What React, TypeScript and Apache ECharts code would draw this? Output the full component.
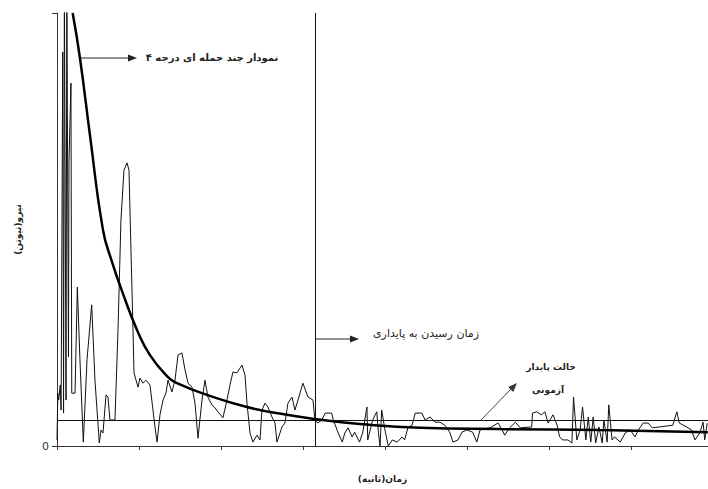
import React, { useEffect, useRef } from "react";
import * as echarts from "echarts";

const noisyX = [
  0, 0.1, 0.2, 0.4, 0.5, 0.7, 0.8, 0.9, 1.1, 1.2, 1.4, 1.46, 1.7, 1.8, 2.2, 2.48, 2.8, 3.21, 3.66, 4.23,
  4.63, 5.16, 5.37, 5.61, 5.98, 6.22, 6.46, 7.07, 7.44, 7.8, 8.17, 8.54, 8.78, 9.02, 9.27, 9.39, 9.88, 10.12, 10.49, 10.85,
  11.34, 11.95, 12.2, 12.56, 12.93, 13.29, 13.54, 14.02, 14.39, 14.76, 15.24, 15.61, 15.98, 16.46, 16.83, 17.2, 17.68, 18.05, 18.41, 18.9,
  19.27, 19.63, 20.24, 20.73, 21.1, 21.46, 21.95, 22.56, 22.93, 23.17, 23.54, 23.9, 24.39, 24.76, 25.0, 25.37, 25.73, 26.22, 26.59, 26.83,
  27.44, 27.8, 28.17, 28.66, 29.02, 29.39, 29.99, 30.61, 31.22, 31.46, 31.8, 32.3, 32.7, 33.5, 33.7, 34.3, 34.8, 35.1, 35.5, 36.0,
  36.3, 36.9, 37.3, 37.8, 37.9, 38.5, 39.0, 39.2, 39.4, 39.6, 40.0, 40.4, 40.9, 41.5, 42.1, 42.4, 42.8, 43.3, 43.7, 44.5,
  44.9, 45.5, 46.1, 46.7, 47.3, 47.9, 48.3, 48.9, 49.4, 50.0, 50.7, 51.2, 51.6, 52.8, 53.8, 54.3, 54.6, 55.2, 55.9, 56.5,
  57.9, 58.0, 58.5, 59.1, 59.5, 59.9, 60.5, 61.0, 61.3, 61.7, 62.3, 62.8, 63.0, 63.4, 63.8, 64.1, 64.5, 64.8, 65.1, 65.4,
  65.7, 66.1, 66.5, 66.7, 67.1, 67.3, 67.7, 68.0, 68.7, 69.3, 69.9, 70.5, 70.9, 71.5, 72.1, 72.6, 73.5, 75.1, 75.6, 75.9,
  76.8, 77.4, 77.8, 78.4, 78.8, 79.0, 79.3,
];
const noisyY = [
  1.4, 12.2, 10.6, 14.1, 8.3, 91.0, 7.6, 105, 10.6, 105, 20.6, 65.4, 83.8, 12.2, 12.2, 36.7, 19.9, 0.9, 19.9, 32.6,
  15.2, 0.7, 3.7, 3.0, 11.8, 11.3, 6.0, 6.0, 26.8, 52.2, 63.7, 65.4, 63.7, 45.3, 26.8, 16.9, 13.6, 15.7, 14.5, 15.2,
  14.1, 4.4, 0.9, 7.2, 10.6, 12.2, 15.2, 12.5, 15.2, 21.0, 21.5, 17.6, 14.5, 13.6, 9.9, 1.8, 10.6, 15.2, 11.3, 9.5,
  8.8, 7.9, 6.5, 10.6, 14.1, 17.1, 16.9, 18.7, 16.4, 9.9, 3.0, 0.9, 2.5, 1.4, 8.3, 9.9, 9.0, 6.7, 5.3, 0.9,
  4.4, 5.3, 9.9, 11.3, 8.3, 10.6, 14.5, 11.3, 10.6, 6.0, 5.3, 6.0, 7.6, 7.6, 6.0, 3.0, 0.9, 3.0, 4.2, 2.1,
  3.2, 0.9, 3.2, 9.0, 1.4, 6.0, 7.9, 3.2, 0, 8.3, 3.7, 0, 1.4, 0.9, 2.1, 1.4, 4.2, 4.8, 7.6, 7.6,
  6.0, 6.7, 5.5, 5.5, 4.8, 3.2, 0.9, 1.4, 3.2, 3.7, 3.2, 0.9, 3.7, 4.2, 5.3, 3.7, 2.5, 4.2, 5.5, 4.2,
  4.4, 7.6, 7.9, 7.2, 7.9, 5.3, 7.2, 4.8, 2.1, 1.4, 1.4, 0.7, 11.3, 1.4, 3.7, 9.0, 1.4, 6.7, 0.9, 6.7,
  0.7, 4.4, 0.7, 6.0, 0.9, 9.5, 1.4, 2.1, 0.9, 3.0, 3.7, 2.1, 3.7, 5.3, 5.3, 4.2, 4.4, 4.8, 7.9, 5.3,
  4.4, 3.7, 1.4, 3.0, 5.5, 1.4, 5.3,
];

const polyX = [1.91, 2.8, 4.02, 5.61, 6.71, 7.89, 9.76, 11.34, 13.54, 14.63, 18.29, 23.17, 28.05, 31.71, 36.95, 44.27, 54.02, 66.22, 79.39];
const polyY = [100, 89.6, 71.8, 49.9, 42.5, 36.0, 26.8, 21.0, 15.9, 14.5, 11.8, 9.0, 7.2, 6.2, 5.1, 4.2, 3.9, 3.7, 3.2];

const steadyLevel = 6.0;
const settleTime = 31.46;
const xMax = 79.4;
const yMax = 100;
const xTickStep = 10;

const labelPoly = "نمودار چند جمله ای درجه ۴";
const labelSettle = "زمان رسیدن به پایداری";
const labelSteady1 = "حالت پایدار";
const labelSteady2 = "آزمونی";
const xName = "زمان(ثانیه)";
const yName = "نیرو(نیوتن)";

const FONT = "DejaVu Sans";

export default function App() {
  const ref = useRef<HTMLDivElement>(null);
  useEffect(() => {
    if (!ref.current) return;
    const chart = echarts.init(ref.current, null, { renderer: "svg" });
    const noisy = noisyX.map((x, i) => [x, noisyY[i]]);
    const poly = polyX.map((x, i) => [x, polyY[i]]);
    chart.setOption({
      animation: false,
      backgroundColor: "#fff",
      grid: { left: 57, right: 0, top: 13, bottom: 43 },
      xAxis: {
        type: "value",
        min: 0,
        max: xMax,
        interval: xTickStep,
        name: xName,
        nameLocation: "middle",
        nameGap: 28,
        nameTextStyle: { fontFamily: FONT, fontSize: 9, color: "#222", fontWeight: "bold" },
        axisLine: { lineStyle: { color: "#333", width: 1 } },
        axisTick: { show: true, inside: false, length: 4, lineStyle: { color: "#333" } },
        axisLabel: { show: false },
        splitLine: { show: false },
      },
      yAxis: {
        type: "value",
        min: 0,
        max: yMax,
        interval: yMax,
        name: yName,
        nameLocation: "middle",
        nameGap: 35,
        nameTextStyle: { fontFamily: FONT, fontSize: 9, color: "#222", fontWeight: "bold" },
        axisLine: { show: true, lineStyle: { color: "#333", width: 1 } },
        axisTick: { show: true, length: 5, lineStyle: { color: "#333" } },
        axisLabel: {
          fontFamily: FONT,
          fontSize: 11,
          color: "#333",
          margin: 8,
          formatter: (v: number) => (v === 0 ? "0" : ""),
        },
        splitLine: { show: false },
      },
      series: [
        {
          type: "line",
          data: noisy,
          symbol: "none",
          lineStyle: { color: "#111", width: 1 },
          z: 2,
          markLine: {
            silent: true,
            symbol: "none",
            label: { show: false },
            lineStyle: { color: "#111", width: 1, type: "solid" },
            data: [{ yAxis: steadyLevel }, { xAxis: settleTime }],
          },
        },
        {
          type: "line",
          data: poly,
          smooth: true,
          symbol: "none",
          lineStyle: { color: "#000", width: 2.5 },
          z: 3,
        },
      ],
      graphic: [
        { type: "line", shape: { x1: 80, y1: 58, x2: 129, y2: 58 }, style: { stroke: "#222", lineWidth: 1 } },
        { type: "polygon", shape: { points: [[137, 58], [128, 54.5], [128, 61.5]] }, style: { fill: "#222" } },
        {
          type: "text",
          x: 212,
          y: 57,
          style: { text: labelPoly, fontFamily: FONT, fontSize: 10, fill: "#222", align: "center", verticalAlign: "middle", fontWeight: "bold" },
        },
        { type: "line", shape: { x1: 316, y1: 339, x2: 351, y2: 339 }, style: { stroke: "#222", lineWidth: 1 } },
        { type: "polygon", shape: { points: [[359, 339], [350, 335.5], [350, 342.5]] }, style: { fill: "#222" } },
        {
          type: "text",
          x: 426,
          y: 333,
          style: { text: labelSettle, fontFamily: FONT, fontSize: 11, fill: "#222", align: "center", verticalAlign: "middle" },
        },
        {
          type: "text",
          x: 551,
          y: 367,
          style: { text: labelSteady1, fontFamily: FONT, fontSize: 9, fill: "#222", align: "center", verticalAlign: "middle", fontWeight: "bold" },
        },
        {
          type: "text",
          x: 548,
          y: 390,
          style: { text: labelSteady2, fontFamily: FONT, fontSize: 9, fill: "#222", align: "center", verticalAlign: "middle", fontWeight: "bold" },
        },
        { type: "line", shape: { x1: 481, y1: 420, x2: 511, y2: 389 }, style: { stroke: "#444", lineWidth: 1 } },
        { type: "polygon", shape: { points: [[517, 383], [513.2, 391.9], [508.2, 387.1]] }, style: { fill: "#333" } },
      ],
    });
    return () => chart.dispose();
  }, []);
  return (
    <div
      ref={ref}
      style={{ position: "fixed", left: 0, top: 0, width: 708, height: 489, background: "#fff" }}
    />
  );
}
